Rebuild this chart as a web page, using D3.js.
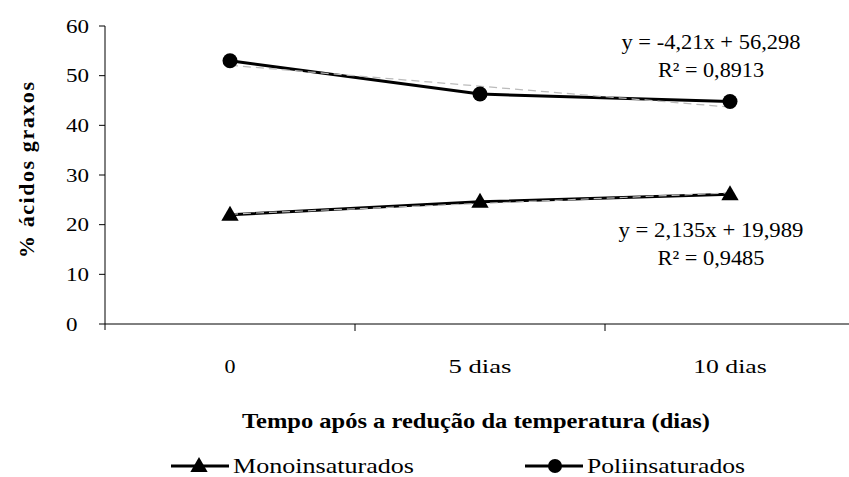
<!DOCTYPE html>
<html>
<head>
<meta charset="utf-8">
<script src="https://cdn.jsdelivr.net/npm/d3@7"></script>
<style>
  body { margin: 0; background: #fff; }
  svg text { font-family: "Liberation Serif", "Times New Roman", serif; fill: #000; }
</style>
</head>
<body>
<div id="chart"></div>
<script>
// Dados
const categories = ["0", "5 dias", "10 dias"];
const monoValues = [22.0, 24.6, 26.1];
const poliValues = [53.0, 46.3, 44.8];
const yTicks = [0, 10, 20, 30, 40, 50, 60];
const monoTrend = { slope: 2.135, intercept: 19.989, label: "y = 2,135x + 19,989", r2: "R² = 0,9485" };
const poliTrend = { slope: -4.21, intercept: 56.298, label: "y = -4,21x + 56,298", r2: "R² = 0,8913" };

const width = 849, height = 477;
const margin = { top: 26, right: -6, bottom: 153, left: 105 };

const svg = d3.select("#chart").append("svg")
  .attr("width", width)
  .attr("height", height)
  .attr("font-family", "Liberation Serif, Times New Roman, serif");

const x = d3.scaleBand()
  .domain(categories)
  .range([margin.left, width - margin.right]);

const y = d3.scaleLinear()
  .domain([0, 60])
  .range([height - margin.bottom, margin.top]);

const cx = d => x(d) + x.bandwidth() / 2;

// o gráfico original está um pouco esticado na horizontal
function fitText(sel, w) {
  return sel.attr("textLength", w).attr("lengthAdjust", "spacingAndGlyphs");
}

// Eixo Y
svg.append("line")
  .attr("x1", margin.left).attr("x2", margin.left)
  .attr("y1", y(60)).attr("y2", y(0) + 6)
  .attr("stroke", "#000");
svg.selectAll(".ytick").data(yTicks).enter().append("line")
  .attr("x1", margin.left - 6).attr("x2", margin.left)
  .attr("y1", d => y(d)).attr("y2", d => y(d))
  .attr("stroke", "#000");
svg.selectAll(".ylabel").data(yTicks).enter().append("text")
  .attr("x", 66)
  .attr("y", d => y(d) + 6.5)
  .style("font-size", "19px")
  .attr("textLength", d => String(d).length * 11.5)
  .attr("lengthAdjust", "spacingAndGlyphs")
  .text(d => d);

// Eixo X
svg.append("line")
  .attr("x1", margin.left).attr("x2", width)
  .attr("y1", y(0)).attr("y2", y(0))
  .attr("stroke", "#000");
svg.selectAll(".xtick").data(categories.slice(1)).enter().append("line")
  .attr("x1", d => x(d)).attr("x2", d => x(d))
  .attr("y1", y(0)).attr("y2", y(0) + 7)
  .attr("stroke", "#000");
svg.selectAll(".xlabel").data(categories).enter().append("text")
  .attr("x", d => cx(d))
  .attr("y", 373)
  .attr("text-anchor", "middle")
  .style("font-size", "19px")
  .attr("textLength", d => d === "0" ? 11 : d.length * 10.5)
  .attr("lengthAdjust", "spacingAndGlyphs")
  .text(d => d);

// Títulos dos eixos
svg.append("text")
  .attr("transform", "translate(34,170) rotate(-90)")
  .attr("text-anchor", "middle")
  .style("font-size", "22px")
  .style("font-weight", "bold")
  .attr("textLength", 176)
  .attr("lengthAdjust", "spacing")
  .text("% ácidos graxos");

fitText(svg.append("text")
  .attr("x", 476)
  .attr("y", 428)
  .attr("text-anchor", "middle")
  .style("font-size", "21px")
  .style("font-weight", "bold")
  .text("Tempo após a redução da temperatura (dias)"), 468);

// Séries
const line = d3.line()
  .x((d, i) => cx(categories[i]))
  .y(d => y(d));

function trendPoints(t) {
  return [1, categories.length].map(k => ({ i: k - 1, v: t.slope * k + t.intercept }));
}

[monoValues, poliValues].forEach(vals => {
  svg.append("path")
    .datum(vals)
    .attr("d", line)
    .attr("fill", "none")
    .attr("stroke", "#000")
    .attr("stroke-width", 3);
});

// Linhas de tendência
[monoTrend, poliTrend].forEach(t => {
  const pts = trendPoints(t);
  svg.append("line")
    .attr("x1", cx(categories[pts[0].i])).attr("y1", y(pts[0].v))
    .attr("x2", cx(categories[pts[1].i])).attr("y2", y(pts[1].v))
    .attr("stroke", "#bbb")
    .attr("stroke-width", 1.2)
    .attr("stroke-dasharray", "8,5");
});

// Marcadores
const triangle = d3.symbol().type(d3.symbolTriangle).size(130);
svg.selectAll(".mono").data(monoValues).enter().append("path")
  .attr("d", triangle)
  .attr("transform", (d, i) => "translate(" + cx(categories[i]) + "," + (y(d) + 1) + ")")
  .attr("fill", "#000");
svg.selectAll(".poli").data(poliValues).enter().append("circle")
  .attr("cx", (d, i) => cx(categories[i]))
  .attr("cy", d => y(d))
  .attr("r", 7.5)
  .attr("fill", "#000");

// Equações
[[poliTrend, 711, 49, 179, 106], [monoTrend, 711, 237, 185, 107]].forEach(([t, ex, ey, w1, w2]) => {
  fitText(svg.append("text")
    .attr("x", ex).attr("y", ey)
    .attr("text-anchor", "middle")
    .style("font-size", "21px")
    .text(t.label), w1);
  fitText(svg.append("text")
    .attr("x", ex).attr("y", ey + 28)
    .attr("text-anchor", "middle")
    .style("font-size", "21px")
    .text(t.r2), w2);
});

// Legenda
const legend = [
  { name: "Monoinsaturados", x0: 171, w: 181, sym: "tri" },
  { name: "Poliinsaturados", x0: 525, w: 158, sym: "circ" }
];
legend.forEach(l => {
  const ly = 466;
  svg.append("line")
    .attr("x1", l.x0).attr("x2", l.x0 + 58)
    .attr("y1", ly).attr("y2", ly)
    .attr("stroke", "#000").attr("stroke-width", 3);
  if (l.sym === "tri") {
    svg.append("path").attr("d", triangle)
      .attr("transform", "translate(" + (l.x0 + 28) + "," + (ly + 1) + ")");
  } else {
    svg.append("circle").attr("cx", l.x0 + 30).attr("cy", ly).attr("r", 7);
  }
  fitText(svg.append("text")
    .attr("x", l.x0 + 62).attr("y", ly + 7)
    .style("font-size", "21px")
    .text(l.name), l.w);
});
</script>
</body>
</html>
